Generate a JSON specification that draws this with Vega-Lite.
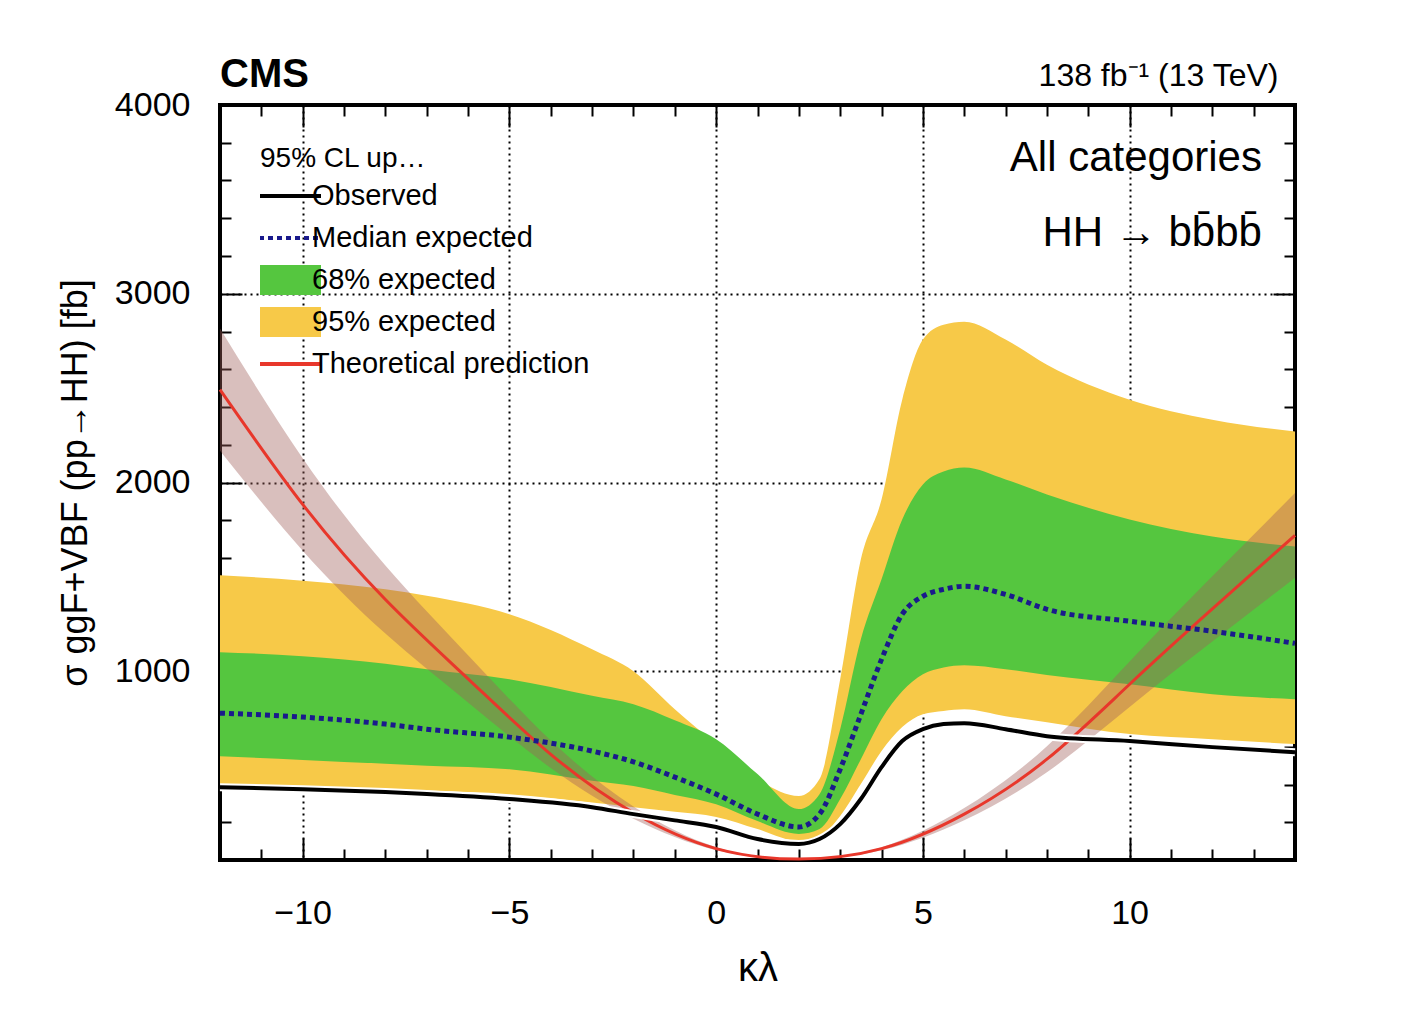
{
  "$schema": "https://vega.github.io/schema/vega-lite/v6.json",
  "autosize": {"type": "none"},
  "width": 1075,
  "height": 755,
  "padding": {"left": 220, "top": 105, "right": 121, "bottom": 174},
  "config": {
    "font": "Liberation Sans",
    "view": {"stroke": "black", "strokeWidth": 4},
    "axis": {"domain": false, "labelFont": "Liberation Sans", "titleFont": "Liberation Sans", "labelColor": "black", "titleColor": "black", "tickColor": "black", "tickWidth": 2}
  },
  "datasets": {
    "lim": [
      {"k": -12, "obs": 386, "exp": 778, "lo68": 550, "hi68": 1101, "lo95": 402, "hi95": 1508},
      {"k": -10, "obs": 375, "exp": 757, "lo68": 530, "hi68": 1080, "lo95": 390, "hi95": 1480},
      {"k": -8, "obs": 360, "exp": 720, "lo68": 510, "hi68": 1040, "lo95": 375, "hi95": 1434},
      {"k": -7, "obs": 350, "exp": 693, "lo68": 500, "hi68": 1011, "lo95": 368, "hi95": 1400},
      {"k": -5, "obs": 323, "exp": 651, "lo68": 481, "hi68": 958, "lo95": 349, "hi95": 1302},
      {"k": -3, "obs": 280, "exp": 577, "lo68": 420, "hi68": 870, "lo95": 305, "hi95": 1116},
      {"k": -2, "obs": 243, "exp": 520, "lo68": 392, "hi68": 825, "lo95": 280, "hi95": 1000},
      {"k": -1, "obs": 210, "exp": 439, "lo68": 345, "hi68": 740, "lo95": 255, "hi95": 799},
      {"k": 0, "obs": 175, "exp": 349, "lo68": 296, "hi68": 640, "lo95": 228, "hi95": 614},
      {"k": 1, "obs": 111, "exp": 243, "lo68": 206, "hi68": 455, "lo95": 164, "hi95": 429},
      {"k": 2, "obs": 85, "exp": 175, "lo68": 138, "hi68": 270, "lo95": 101, "hi95": 339},
      {"k": 2.5, "obs": 111, "exp": 243, "lo68": 164, "hi68": 349, "lo95": 122, "hi95": 429},
      {"k": 3, "obs": 190, "exp": 481, "lo68": 323, "hi68": 693, "lo95": 233, "hi95": 958},
      {"k": 3.5, "obs": 323, "exp": 772, "lo68": 534, "hi68": 1169, "lo95": 402, "hi95": 1593},
      {"k": 4, "obs": 492, "exp": 1063, "lo68": 746, "hi68": 1487, "lo95": 577, "hi95": 1910},
      {"k": 4.5, "obs": 630, "exp": 1302, "lo68": 894, "hi68": 1804, "lo95": 704, "hi95": 2439},
      {"k": 5, "obs": 693, "exp": 1397, "lo68": 984, "hi68": 1989, "lo95": 772, "hi95": 2757},
      {"k": 5.5, "obs": 720, "exp": 1434, "lo68": 1020, "hi68": 2058, "lo95": 790, "hi95": 2836},
      {"k": 6, "obs": 725, "exp": 1450, "lo68": 1032, "hi68": 2079, "lo95": 799, "hi95": 2852},
      {"k": 7, "obs": 693, "exp": 1407, "lo68": 1011, "hi68": 2016, "lo95": 762, "hi95": 2757},
      {"k": 8, "obs": 656, "exp": 1328, "lo68": 980, "hi68": 1937, "lo95": 730, "hi95": 2624},
      {"k": 10, "obs": 630, "exp": 1265, "lo68": 931, "hi68": 1804, "lo95": 667, "hi95": 2439},
      {"k": 12, "obs": 598, "exp": 1212, "lo68": 878, "hi68": 1714, "lo95": 640, "hi95": 2333},
      {"k": 14, "obs": 571, "exp": 1148, "lo68": 852, "hi68": 1661, "lo95": 614, "hi95": 2270}
    ],
    "th": [
      {"k": -12, "xs": 2492, "lo": 2168, "hi": 2816},
      {"k": -10, "xs": 1884, "lo": 1639, "hi": 2129},
      {"k": -8, "xs": 1380, "lo": 1200, "hi": 1560},
      {"k": -6, "xs": 960, "lo": 835, "hi": 1085},
      {"k": -4, "xs": 560, "lo": 487, "hi": 633},
      {"k": -2, "xs": 250, "lo": 218, "hi": 283},
      {"k": 0, "xs": 60, "lo": 52, "hi": 68},
      {"k": 2, "xs": 5, "lo": 4, "hi": 6},
      {"k": 4, "xs": 60, "lo": 52, "hi": 68},
      {"k": 6, "xs": 243, "lo": 211, "hi": 275},
      {"k": 8, "xs": 534, "lo": 465, "hi": 603},
      {"k": 10, "xs": 931, "lo": 810, "hi": 1052},
      {"k": 12, "xs": 1330, "lo": 1157, "hi": 1503},
      {"k": 14, "xs": 1720, "lo": 1496, "hi": 1944}
    ]
  },
  "resolve": {"axis": {"x": "independent", "y": "independent"}},
  "layer": [
    {
      "data": {"name": "lim"},
      "mark": {"type": "area", "interpolate": "monotone"},
      "encoding": {
        "x": {"field": "k", "type": "quantitative", "scale": {"domain": [-12, 14], "nice": false, "zero": false},
          "axis": {"orient": "bottom", "values": [-12,-11,-10,-9,-8,-7,-6,-5,-4,-3,-2,-1,0,1,2,3,4,5,6,7,8,9,10,11,12,13,14],
            "labelExpr": "datum.value % 5 == 0 ? replace(format(datum.value, 'd'), '-', '\u2212') : ''",
            "labelFontSize": 34, "labelPadding": 58, "title": "κλ", "titleFontSize": 40, "titleFontWeight": "normal", "titlePadding": 18,
            "tickSize": {"condition": {"test": "datum.value % 5 == 0", "value": -22}, "value": -11},
            "grid": true, "gridDash": [2, 4], "gridColor": "black", "gridWidth": 2,
            "gridOpacity": {"condition": {"test": "datum.value % 5 == 0 && datum.value != -12 && datum.value != 14", "value": 1}, "value": 0}}},
        "y": {"field": "lo95", "type": "quantitative", "scale": {"domain": [0, 4000], "nice": false},
          "axis": {"orient": "left", "values": [0,200,400,600,800,1000,1200,1400,1600,1800,2000,2200,2400,2600,2800,3000,3200,3400,3600,3800,4000],
            "labelExpr": "datum.value % 1000 == 0 && datum.value > 0 ? format(datum.value, 'd') : ''",
            "labelFontSize": 34, "labelPadding": 52, "title": "σ ggF+VBF (pp→HH) [fb]", "titleFontSize": 36, "titleFontWeight": "normal", "titlePadding": 20,
            "tickSize": {"condition": {"test": "datum.value % 1000 == 0", "value": -22}, "value": -11},
            "grid": true, "gridDash": [2, 4], "gridColor": "black", "gridWidth": 2,
            "gridOpacity": {"condition": {"test": "datum.value % 1000 == 0 && datum.value > 0 && datum.value < 4000", "value": 1}, "value": 0}}},
        "y2": {"field": "hi95"},
        "color": {"datum": "95% expected", "type": "nominal",
          "scale": {"domain": ["Observed", "Median expected", "68% expected", "95% expected", "Theoretical prediction"],
            "range": ["black", "#1a1a8c", "#55c63f", "#f7c948", "#e8372b"]},
          "legend": {"orient": "top-left", "title": "95% CL upper limits", "titleFontSize": 28, "titleFontWeight": "normal", "titleColor": "black",
            "labelFontSize": 29, "labelColor": "black", "labelLimit": 600, "symbolType": "stroke", "symbolSize": 6400, "clipHeight": 36, "rowPadding": 6, "offset": 40, "symbolOffset": 6, "labelOffset": 16,
            "encode": {"symbols": {"update": {
              "strokeWidth": {"signal": "indexof(['68% expected','95% expected'], datum.value) >= 0 ? 30 : 4"},
              "strokeDash": {"signal": "datum.value == 'Median expected' ? [5, 4] : []"}}}}}}
      }
    },
    {
      "data": {"name": "lim"},
      "mark": {"type": "area", "interpolate": "monotone"},
      "encoding": {
        "x": {"field": "k", "type": "quantitative", "axis": {"orient": "top", "values": [-12,-11,-10,-9,-8,-7,-6,-5,-4,-3,-2,-1,0,1,2,3,4,5,6,7,8,9,10,11,12,13,14], "labels": false, "title": null,
          "tickSize": {"condition": {"test": "datum.value % 5 == 0", "value": -22}, "value": -11}}},
        "y": {"field": "lo68", "type": "quantitative", "axis": {"orient": "right", "values": [0,200,400,600,800,1000,1200,1400,1600,1800,2000,2200,2400,2600,2800,3000,3200,3400,3600,3800,4000], "labels": false, "title": null,
          "tickSize": {"condition": {"test": "datum.value % 1000 == 0", "value": -22}, "value": -11}}},
        "y2": {"field": "hi68"},
        "color": {"datum": "68% expected", "type": "nominal"}
      }
    },
    {
      "data": {"name": "th"},
      "mark": {"type": "area", "interpolate": "natural", "color": "#a0605a", "opacity": 0.4},
      "encoding": {
        "x": {"field": "k", "type": "quantitative", "axis": null},
        "y": {"field": "lo", "type": "quantitative", "axis": null},
        "y2": {"field": "hi"}
      }
    },
    {
      "data": {"name": "th"},
      "mark": {"type": "line", "interpolate": "natural", "strokeWidth": 3},
      "encoding": {
        "x": {"field": "k", "type": "quantitative", "axis": null},
        "y": {"field": "xs", "type": "quantitative", "axis": null},
        "color": {"datum": "Theoretical prediction", "type": "nominal"}
      }
    },
    {
      "data": {"name": "lim"},
      "mark": {"type": "line", "interpolate": "monotone", "strokeWidth": 5, "strokeDash": [5, 4]},
      "encoding": {
        "x": {"field": "k", "type": "quantitative", "axis": null},
        "y": {"field": "exp", "type": "quantitative", "axis": null},
        "color": {"datum": "Median expected", "type": "nominal"}
      }
    },
    {
      "data": {"name": "lim"},
      "mark": {"type": "line", "interpolate": "monotone", "strokeWidth": 8, "color": "white"},
      "encoding": {
        "x": {"field": "k", "type": "quantitative", "axis": null},
        "y": {"field": "obs", "type": "quantitative", "axis": null}
      }
    },
    {
      "data": {"name": "lim"},
      "mark": {"type": "line", "interpolate": "monotone", "strokeWidth": 4},
      "encoding": {
        "x": {"field": "k", "type": "quantitative", "axis": null},
        "y": {"field": "obs", "type": "quantitative", "axis": null},
        "color": {"datum": "Observed", "type": "nominal"}
      }
    },
    {
      "data": {"values": [{"t": "All categories", "kx": 13.2, "vy": 3720}, {"t": "HH → bb̄bb̄", "kx": 13.2, "vy": 3320}]},
      "mark": {"type": "text", "align": "right", "baseline": "middle", "fontSize": 42, "color": "black"},
      "encoding": {
        "x": {"field": "kx", "type": "quantitative", "axis": null},
        "y": {"field": "vy", "type": "quantitative", "axis": null},
        "text": {"field": "t"}
      }
    },
    {
      "data": {"values": [{"t": "CMS", "kx": -12, "vy": 4000}]},
      "mark": {"type": "text", "align": "left", "baseline": "bottom", "dy": -10, "fontSize": 40, "fontWeight": "bold", "color": "black"},
      "encoding": {
        "x": {"field": "kx", "type": "quantitative", "axis": null},
        "y": {"field": "vy", "type": "quantitative", "axis": null},
        "text": {"field": "t"}
      }
    },
    {
      "data": {"values": [{"t": "138 fb⁻¹ (13 TeV)", "kx": 13.6, "vy": 4000}]},
      "mark": {"type": "text", "align": "right", "baseline": "bottom", "dy": -12, "fontSize": 32, "color": "black"},
      "encoding": {
        "x": {"field": "kx", "type": "quantitative", "axis": null},
        "y": {"field": "vy", "type": "quantitative", "axis": null},
        "text": {"field": "t"}
      }
    }
  ]
}
